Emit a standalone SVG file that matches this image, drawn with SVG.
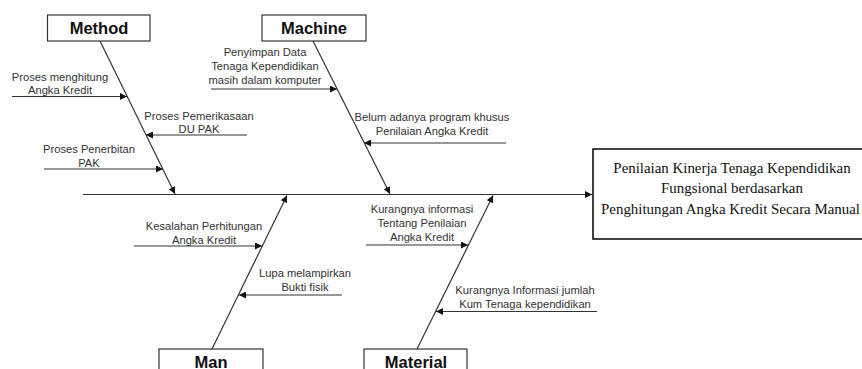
<svg xmlns="http://www.w3.org/2000/svg" width="862" height="369" viewBox="0 0 862 369">
<style>
.cat rect{fill:#fff;stroke:#333;stroke-width:1.2}
.cat text{font-family:"Liberation Sans",Arial,sans-serif;font-weight:bold;font-size:16.5px;fill:#111;text-anchor:middle}
.lbl{font-family:"Liberation Sans",Arial,sans-serif;font-size:11.2px;fill:#333;text-anchor:middle}
.conn line{stroke:#333;stroke-width:1.2;fill:none}
.eff rect{fill:#fff;stroke:#111;stroke-width:1.6}
.eff text{font-family:"Liberation Serif","Times New Roman",serif;font-size:14.9px;fill:#111;text-anchor:middle}
</style>
<defs>
<marker id="ah" viewBox="0 0 10 10" refX="10" refY="5" markerWidth="8" markerHeight="7" markerUnits="userSpaceOnUse" orient="auto">
<path d="M0,0 L10,5 L0,10 Z" fill="#111"/>
</marker>
</defs>
<rect width="862" height="369" fill="#fff"/>
<g id="connectors" class="conn">
<line x1="83" y1="194.5" x2="592" y2="194.5" marker-end="url(#ah)"/>
<line x1="100" y1="41" x2="175" y2="194" marker-end="url(#ah)"/>
<line x1="313" y1="41" x2="390" y2="194" marker-end="url(#ah)"/>
<line x1="212" y1="349" x2="287" y2="195.5" marker-end="url(#ah)"/>
<line x1="417" y1="349" x2="493" y2="195.5" marker-end="url(#ah)"/>
<line x1="12" y1="96.5" x2="127" y2="96.5" marker-end="url(#ah)"/>
<line x1="247" y1="135" x2="146" y2="135" marker-end="url(#ah)"/>
<line x1="44" y1="169" x2="163" y2="169" marker-end="url(#ah)"/>
<line x1="211" y1="89" x2="337" y2="89" marker-end="url(#ah)"/>
<line x1="506" y1="143" x2="364" y2="143" marker-end="url(#ah)"/>
<line x1="134" y1="246" x2="262" y2="246" marker-end="url(#ah)"/>
<line x1="342" y1="295" x2="239" y2="295" marker-end="url(#ah)"/>
<line x1="366" y1="245" x2="468" y2="245" marker-end="url(#ah)"/>
<line x1="597" y1="311.5" x2="436" y2="311.5" marker-end="url(#ah)"/>
</g>
<g id="method" class="cat"><rect x="47.5" y="15" width="102.5" height="26"/><text x="99" y="33.5">Method</text></g>
<g id="machine" class="cat"><rect x="262" y="15" width="104" height="26"/><text x="314" y="33.5">Machine</text></g>
<g id="man" class="cat"><rect x="159" y="349" width="104" height="30"/><text x="211" y="367.5">Man</text></g>
<g id="material" class="cat"><rect x="364" y="349" width="103" height="30"/><text x="416" y="367.5">Material</text></g>
<g id="effect" class="eff">
<rect x="593" y="149" width="280" height="90"/>
<text x="732" y="173">Penilaian Kinerja Tenaga Kependidikan</text>
<text x="732" y="193">Fungsional berdasarkan</text>
<text x="730.5" y="214">Penghitungan Angka Kredit Secara Manual</text>
</g>
<g id="labels" class="lbl">
<text x="60" y="81">Proses menghitung</text>
<text x="60" y="94">Angka Kredit</text>
<text x="199" y="120">Proses Pemerikasaan</text>
<text x="199" y="133">DU PAK</text>
<text x="89" y="153">Proses Penerbitan</text>
<text x="89" y="167">PAK</text>
<text x="265" y="56">Penyimpan Data</text>
<text x="265" y="70">Tenaga Kependidikan</text>
<text x="265" y="84">masih dalam komputer</text>
<text x="432" y="121">Belum adanya program khusus</text>
<text x="432" y="135">Penilaian Angka Kredit</text>
<text x="204" y="230">Kesalahan Perhitungan</text>
<text x="204" y="244">Angka Kredit</text>
<text x="305" y="277">Lupa melampirkan</text>
<text x="305" y="291">Bukti fisik</text>
<text x="422" y="213">Kurangnya informasi</text>
<text x="422" y="227">Tentang Penilaian</text>
<text x="422" y="241">Angka Kredit</text>
<text x="525" y="294">Kurangnya Informasi jumlah</text>
<text x="525" y="308">Kum Tenaga kependidikan</text>
</g>
</svg>
